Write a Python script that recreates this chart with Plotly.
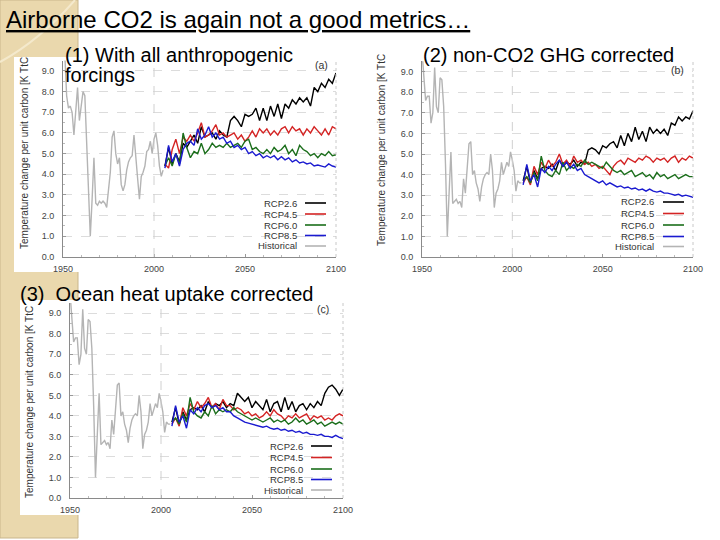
import plotly.graph_objects as go

# ---------------- data ----------------
hist_years = list(range(1950, 2006))
rcp_years = list(range(2006, 2101, 2))

hist_a = [10.5, 9.8, 7.8, 7.2, 7.3, 7.0, 5.9, 7.2, 8.2, 6.6,
          7.4, 8.0, 7.8, 5.5, 3.0, 1.0, 2.8, 4.8, 2.6, 2.5,
          2.7, 2.6, 2.7, 2.6, 2.4, 3.4, 4.1, 5.8, 6.1, 5.0,
          4.5, 4.8, 3.5, 3.2, 3.5, 4.2, 4.6, 4.8, 4.9, 5.9,
          5.0, 3.8, 2.8, 3.9, 4.1, 4.4, 5.1, 5.2, 5.6, 5.0,
          5.7, 6.0, 5.4, 4.4, 3.9, 4.2]

hist_bc = [10.0, 8.5, 7.6, 7.8, 7.8, 6.5, 7.0, 9.2, 7.3, 7.0,
           8.7, 8.6, 7.3, 4.5, 1.0, 3.1, 5.1, 2.6, 2.7, 2.8,
           2.6, 2.7, 2.4, 3.8, 3.1, 4.2, 5.5, 5.6, 4.0, 4.2,
           3.6, 3.3, 2.7, 3.4, 3.8, 4.0, 4.1, 4.0, 5.0, 4.2,
           2.4, 3.1, 3.3, 3.7, 4.6, 4.0, 4.3, 4.6, 4.4, 5.1,
           4.7, 4.2, 3.2, 3.7, 3.6, 3.6]

a_rcp26 = [4.4, 5.3, 4.5, 5.0, 4.6, 5.5, 5.3, 5.6, 5.9, 5.5,
           6.3, 5.8, 5.9, 6.0, 5.7, 6.1, 5.9, 5.8, 6.6, 6.8,
           6.6, 6.3, 6.9, 6.8, 6.9, 7.2, 6.6, 7.2, 6.6, 7.3,
           6.8, 7.4, 6.7, 7.4, 7.2, 7.6, 7.4, 7.7, 7.5, 7.7,
           7.3, 8.2, 8.0, 8.4, 8.2, 8.6, 8.4, 8.9]
a_rcp45 = [4.5, 4.3, 5.2, 5.7, 5.0, 5.8, 5.6, 5.9, 5.6, 6.0,
           6.5, 5.8, 5.9, 6.1, 6.4, 5.9, 6.0, 5.8, 5.9, 6.0,
           5.7, 5.9, 5.6, 5.8, 6.1, 5.8, 6.2, 6.0, 6.2, 5.9,
           6.1, 5.9, 6.2, 6.3, 6.0, 6.3, 6.1, 6.2, 5.9, 6.2,
           6.0, 6.3, 6.1, 5.9, 6.2, 5.9, 6.3, 6.2]
a_rcp60 = [4.4, 4.8, 4.4, 5.0, 4.5, 6.0, 5.3, 4.8, 5.1, 5.0,
           5.5, 5.0, 5.2, 5.5, 5.3, 5.4, 5.3, 5.5, 5.3, 5.4,
           5.5, 5.3, 5.6, 5.7, 5.2, 5.3, 5.1, 5.0, 5.2, 5.0,
           5.3, 5.1, 5.2, 5.4, 5.0, 5.2, 4.9, 5.4, 5.2, 5.1,
           4.9, 5.0, 4.8, 5.0, 4.9, 5.1, 4.9, 4.95]
a_rcp85 = [4.3, 5.4, 4.6, 5.0, 4.4, 5.2, 5.5, 5.6, 5.4, 6.2,
           5.7, 5.9, 6.3, 5.8, 6.0, 5.7, 5.8, 5.5, 5.6, 5.3,
           5.4, 5.2, 5.3, 5.0, 5.1, 4.9, 5.0, 4.8, 4.9, 4.8,
           4.9, 4.7, 4.85, 4.7, 4.8, 4.6, 4.7, 4.55, 4.6, 4.5,
           4.55, 4.4, 4.45, 4.4, 4.35, 4.5, 4.4, 4.35]

b_rcp26 = [3.7, 4.4, 3.6, 4.2, 3.8, 4.3, 4.4, 4.3, 4.5, 4.2,
           4.7, 4.4, 4.6, 4.5, 4.7, 4.4, 4.6, 4.5, 5.2, 5.3,
           5.2, 5.0, 5.4, 5.3, 5.5, 5.6, 5.3, 5.9, 5.4, 6.0,
           5.6, 6.3, 5.7, 6.1, 5.6, 6.3, 6.0, 6.2, 6.0, 6.2,
           5.9, 6.5, 6.4, 6.8, 6.6, 6.8, 6.7, 7.1]
b_rcp45 = [3.6, 3.9, 3.5, 4.4, 4.0, 4.6, 4.3, 4.7, 4.4, 4.6,
           5.0, 4.5, 4.7, 4.4, 4.9, 4.6, 4.7, 4.5, 4.6, 4.4,
           4.5, 4.3, 4.4, 4.2, 4.0, 4.4, 4.6, 4.7, 4.5, 4.8,
           4.7, 4.6, 4.8, 4.7, 4.9, 4.8, 4.6, 4.8, 4.7, 4.8,
           4.6, 4.8, 4.9, 4.6, 4.8, 4.7, 4.9, 4.8]
b_rcp60 = [3.7, 3.9, 3.6, 4.1, 3.7, 4.9, 4.2, 4.0, 3.9, 4.2,
           4.0, 4.6, 4.2, 4.4, 4.3, 4.5, 4.4, 4.7, 4.5, 4.6,
           4.5, 4.4, 4.3, 4.6, 4.4, 4.2, 4.1, 4.2, 4.0, 4.1,
           4.2, 3.9, 4.0, 4.1, 3.9, 4.0, 3.8, 4.1, 3.9, 4.0,
           3.8, 3.9, 4.0, 3.8, 3.9, 4.0, 3.9, 3.9]
b_rcp85 = [3.5, 4.5, 3.7, 4.0, 3.4, 4.3, 4.1, 4.4, 4.2, 4.5,
           4.7, 4.4, 4.6, 4.3, 4.5, 4.2, 4.3, 4.0, 3.9, 3.8,
           3.7, 3.6, 3.7, 3.5, 3.6, 3.5, 3.4, 3.45, 3.35, 3.4,
           3.3, 3.35, 3.25, 3.3, 3.2, 3.3, 3.2, 3.15, 3.2, 3.1,
           3.1, 3.05, 3.0, 3.05, 2.95, 3.0, 2.95, 2.9]

c_rcp26 = [3.7, 4.4, 3.6, 4.2, 3.8, 4.3, 4.4, 4.3, 4.5, 4.2,
           4.7, 4.4, 4.6, 4.5, 4.7, 4.4, 4.6, 4.5, 5.1, 4.9,
           4.7, 4.9, 4.4, 4.7, 4.5, 4.3, 4.8, 4.2, 4.6, 4.7,
           4.2, 4.9, 4.3, 4.7, 4.2, 4.5, 4.6, 4.3, 4.6, 4.4,
           4.7, 4.5, 5.1, 5.4, 5.5, 5.3, 5.0, 5.3]
c_rcp45 = [3.6, 3.9, 3.5, 4.4, 4.0, 4.6, 4.3, 4.7, 4.4, 4.6,
           4.9, 4.4, 4.6, 4.3, 4.8, 4.5, 4.5, 4.3, 4.4, 4.3,
           4.1, 4.2, 4.0, 4.1, 3.9, 4.0, 4.2, 4.0, 4.3, 4.1,
           4.0, 3.8, 4.0, 3.9, 4.1, 3.9, 4.0, 4.1, 3.8, 4.0,
           3.9, 4.0, 3.8, 3.9, 3.8, 4.0, 4.1, 4.0]
c_rcp60 = [3.7, 3.9, 3.6, 4.1, 3.7, 4.9, 4.2, 4.0, 3.9, 4.2,
           4.0, 4.5, 4.1, 4.3, 4.2, 4.3, 4.2, 4.4, 4.2, 4.1,
           4.0, 3.9, 3.8, 3.9, 3.8, 3.7, 3.8, 3.9, 3.7, 3.8,
           3.7, 3.8, 3.6, 3.7, 3.9, 3.7, 3.8, 3.6, 3.7, 3.8,
           3.6, 3.7, 3.5, 3.6, 3.7, 3.6, 3.7, 3.6]
c_rcp85 = [3.5, 4.5, 3.7, 4.0, 3.4, 4.3, 4.1, 4.4, 4.2, 4.5,
           4.6, 4.4, 4.5, 4.3, 4.4, 4.2, 4.2, 4.0, 3.9, 3.8,
           3.7, 3.65, 3.6, 3.55, 3.5, 3.45, 3.5, 3.4, 3.35, 3.4,
           3.3, 3.35, 3.25, 3.3, 3.2, 3.25, 3.15, 3.2, 3.1, 3.1,
           3.05, 3.1, 3.0, 3.0, 2.95, 3.05, 2.95, 2.9]

series_names = ["RCP2.6", "RCP4.5", "RCP6.0", "RCP8.5", "Historical"]
series_colors = ["#000000", "#d42424", "#1b6e1b", "#1a1ad0", "#b4b4b4"]
x_ticks = [1950, 2000, 2050, 2100]
y_ticks = [0, 1, 2, 3, 4, 5, 6, 7, 8, 9]
y_label = "Temperature change per unit carbon [K TtC"

W, H = 720, 540
def px(x):
    return x / W
def py(y):
    return 1 - y / H

panels = [
    ("", hist_a, [a_rcp26, a_rcp45, a_rcp60, a_rcp85], (63, 336), (60.6, 257), "(a)"),
    ("2", hist_bc, [b_rcp26, b_rcp45, b_rcp60, b_rcp85], (422, 693), (61.3, 257), "(b)"),
    ("3", hist_bc, [c_rcp26, c_rcp45, c_rcp60, c_rcp85], (70, 343), (303, 498), "(c)"),
]

fig = go.Figure()
layout = dict(
    width=W, height=H, margin=dict(l=0, r=0, t=0, b=0, autoexpand=False),
    paper_bgcolor="white", plot_bgcolor="white", showlegend=False,
    font=dict(family="Liberation Sans", color="#222"),
)

tickfont = dict(family="Liberation Sans", size=9, color="#444")
for suf, hist, rcps, (x0, x1), (yt, yb), tag in panels:
    xa, ya = "x" + suf, "y" + suf
    fig.add_trace(go.Scatter(x=hist_years, y=hist, mode="lines", xaxis=xa, yaxis=ya,
                             line=dict(color=series_colors[4], width=1.4)))
    for vals, col in zip(rcps, series_colors[:4]):
        fig.add_trace(go.Scatter(x=rcp_years, y=vals, mode="lines", xaxis=xa, yaxis=ya,
                                 line=dict(color=col, width=1.4)))
    layout["xaxis" + suf] = dict(
        domain=[px(x0), px(x1)], anchor=ya, range=[1950, 2100], automargin=False,
        tickvals=x_ticks, ticktext=[str(v) for v in x_ticks],
        showgrid=False, zeroline=False, showline=True, linecolor="#8a8a8a", linewidth=1,
        ticks="inside", ticklen=3, tickcolor="#999", tickfont=tickfont,
        minor=dict(dtick=10, ticks="inside", ticklen=2, tickcolor="#bbb"),
        ticklabelstandoff=3,
    )
    layout["yaxis" + suf] = dict(
        domain=[py(yb), py(yt)], anchor=xa, range=[0, 9.5], automargin=False,
        tickvals=y_ticks, ticktext=["%.1f" % v for v in y_ticks],
        showgrid=True, gridcolor="#dcdcdc", griddash="dash", gridwidth=1,
        zeroline=False, showline=True, linecolor="#8a8a8a", linewidth=1,
        ticks="inside", ticklen=3, tickcolor="#999", tickfont=tickfont,
        minor=dict(dtick=0.5, ticks="inside", ticklen=2, tickcolor="#bbb"),
        ticklabelstandoff=6,
    )

fig.update_layout(**layout)

shapes = []
annotations = []
# slide background: beige left strip and white image backdrops
shapes.append(dict(type="rect", xref="paper", yref="paper", x0=0, x1=px(78), y0=py(538), y1=1,
                   fillcolor="#ead8ad", line=dict(color="#c9b68c", width=1), layer="below"))
shapes.append(dict(type="path", xref="paper", yref="paper",
                   path="M 0,%f Q %f,%f %f,1" % (py(62), px(40), py(40), px(75)),
                   line=dict(color="#f4e9cc", width=2), layer="below"))
shapes.append(dict(type="rect", xref="paper", yref="paper", x0=px(14), x1=px(346), y0=py(272), y1=py(57),
                   fillcolor="white", line=dict(width=0), layer="below"))
shapes.append(dict(type="rect", xref="paper", yref="paper", x0=px(20), x1=px(356), y0=py(515), y1=py(300),
                   fillcolor="white", line=dict(width=0), layer="below"))

label_x = [24, 381, 29]
label_y = [153, 150, 402]
tag_pos = [(321, 65), (677, 70), (323, 309)]
legend_text_x = [299, 656, 305]
legend_line_x = [(305, 326), (663, 684), (311, 332)]
legend_rows = [[203, 214, 225, 235.5, 246], [202, 213.5, 225, 236.5, 246.5], [446, 457.5, 469, 479.5, 490]]

for i, (suf, hist, rcps, (x0, x1), (yt, yb), tag) in enumerate(panels):
    xa = "x" + suf
    shapes.append(dict(type="line", xref=xa + " domain", yref="y" + suf + " domain", x0=1, x1=1, y0=0, y1=1,
                       line=dict(color="#c8c8c8", width=1, dash="dot")))
    shapes.append(dict(type="line", xref=xa, yref="y" + suf + " domain", x0=2000, x1=2000, y0=0, y1=1,
                       line=dict(color="#d0d0d0", width=1, dash="dash")))
    annotations.append(dict(text=y_label, x=px(label_x[i]), y=py(label_y[i]), xref="paper", yref="paper",
                            xanchor="center", yanchor="middle",
                            textangle=-90, showarrow=False, font=dict(size=10, color="#333")))
    annotations.append(dict(text=tag, x=px(tag_pos[i][0]), y=py(tag_pos[i][1]), xref="paper", yref="paper",
                            xanchor="center", yanchor="middle",
                            showarrow=False, font=dict(size=10.5, color="#333")))
    for name, col, ry in zip(series_names, series_colors, legend_rows[i]):
        annotations.append(dict(text=name, x=px(legend_text_x[i]), y=py(ry), xref="paper", yref="paper",
                                xanchor="right", yanchor="middle", showarrow=False,
                                font=dict(size=9.5, color="#333")))
        shapes.append(dict(type="line", xref="paper", yref="paper",
                           x0=px(legend_line_x[i][0]), x1=px(legend_line_x[i][1]), y0=py(ry), y1=py(ry),
                           line=dict(color=col, width=1.6)))

# slide texts
slide_texts = [
    ("<u>Airborne CO2 is again not a good metrics…</u>", 4, 20, 24),
    ("(1) With all anthropogenic", 63, 55, 20),
    ("forcings", 63, 75, 20),
    ("(2) non-CO2 GHG corrected", 421, 55, 20),
    ("(3)  Ocean heat uptake corrected", 18, 294, 20),
]
for txt, tx, ty, fs in slide_texts:
    annotations.append(dict(text=txt, x=px(tx), y=py(ty), xref="paper", yref="paper",
                            xanchor="left", yanchor="middle", showarrow=False,
                            font=dict(size=fs, color="black")))

fig.update_layout(shapes=shapes, annotations=annotations)
fig.write_html("out.html", config={"displayModeBar": False},
               post_script="document.body.style.margin='0';")
